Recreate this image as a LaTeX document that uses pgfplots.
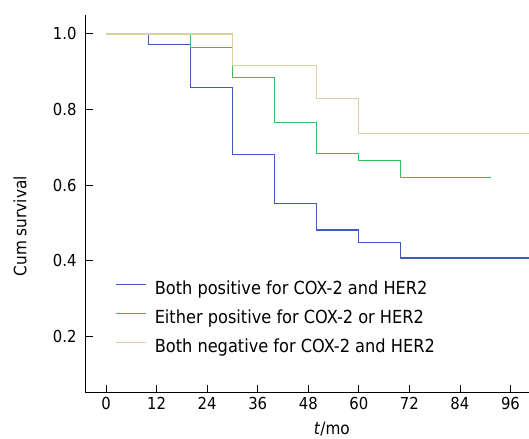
\documentclass[border=0pt]{standalone}
\usepackage{pgfplots}
\pgfplotsset{compat=1.18}
\usepackage{fontspec}
\setmainfont{DejaVu Sans Condensed}
\definecolor{kmblue}{HTML}{3F5CBC}
\definecolor{kmgreen}{HTML}{3EBE5A}
\definecolor{kmbeige}{HTML}{D8D2A0}

\begin{document}
\begin{tikzpicture}
  \useasboundingbox (-85pt,-45.3pt) rectangle (444pt,392.9pt);
  \begin{axis}[
    at={(0,0)}, anchor=south west,
    scale only axis,
    width=444pt, height=377.9pt,
    xmin=-5, xmax=100.4,
    ymin=0.05, ymax=1.05,
    axis lines=left,
    axis line style={-, black, line width=0.9pt},
    tick align=inside,
    major tick length=8pt,
    tick style={black, line width=0.8pt},
    xtick={0,12,...,96},
    ytick={0.2,0.4,0.6,0.8,1.0},
    yticklabel style={/pgf/number format/fixed, /pgf/number format/fixed zerofill, /pgf/number format/precision=1},
    /pgf/number format/assume math mode=true,
    ticklabel style={font=\fontsize{16.5}{19}\selectfont},
    xticklabel style={yshift=-1pt},
    yticklabel style={xshift=-5pt},
    xlabel={\textit{t}/mo},
    xlabel style={at={(axis description cs:0.556,0)}, anchor=north, yshift=-26pt, font=\fontsize{17}{20}\selectfont},
    ylabel={Cum survival},
    ylabel style={at={(axis description cs:-0.1464,0.441)}, anchor=center, font=\fontsize{17}{20}\selectfont},
    legend style={
      at={(axis cs:2.3,0.348)}, anchor=north west,
      draw=none, fill=none,
      font=\fontsize{18}{21}\selectfont,
      inner sep=0pt,
      row sep=14pt,
      column sep=8pt,
      nodes={inner sep=0pt},
    },
    legend cell align=left,
    legend image code/.code={\draw[#1, line width=0.8pt] (0pt,0.36em) -- (30pt,0.36em);},
    clip=false,
  ]
  \addplot[kmblue, line width=1.1pt, const plot] coordinates {
    (0,1.0) (10,0.972) (20,0.857) (30,0.680) (40,0.550)
    (50,0.481) (60,0.447) (70,0.407) (100.4,0.407)
  };
  \addlegendentry{Both positive for COX-2 and HER2}
  \addplot[kmgreen, line width=1.1pt, const plot] coordinates {
    (0,1.0) (20,0.963) (30,0.885) (40,0.765) (50,0.684)
    (60,0.664) (70,0.620) (91.3,0.620)
  };
  \addlegendentry{Either positive for COX-2 or HER2}
  \addplot[kmbeige, line width=1.3pt, const plot] coordinates {
    (0,1.0) (30,0.916) (50,0.829) (60,0.737) (100.4,0.737)
  };
  \addlegendentry{Both negative for COX-2 and HER2}
  \end{axis}
\end{tikzpicture}
\end{document}
